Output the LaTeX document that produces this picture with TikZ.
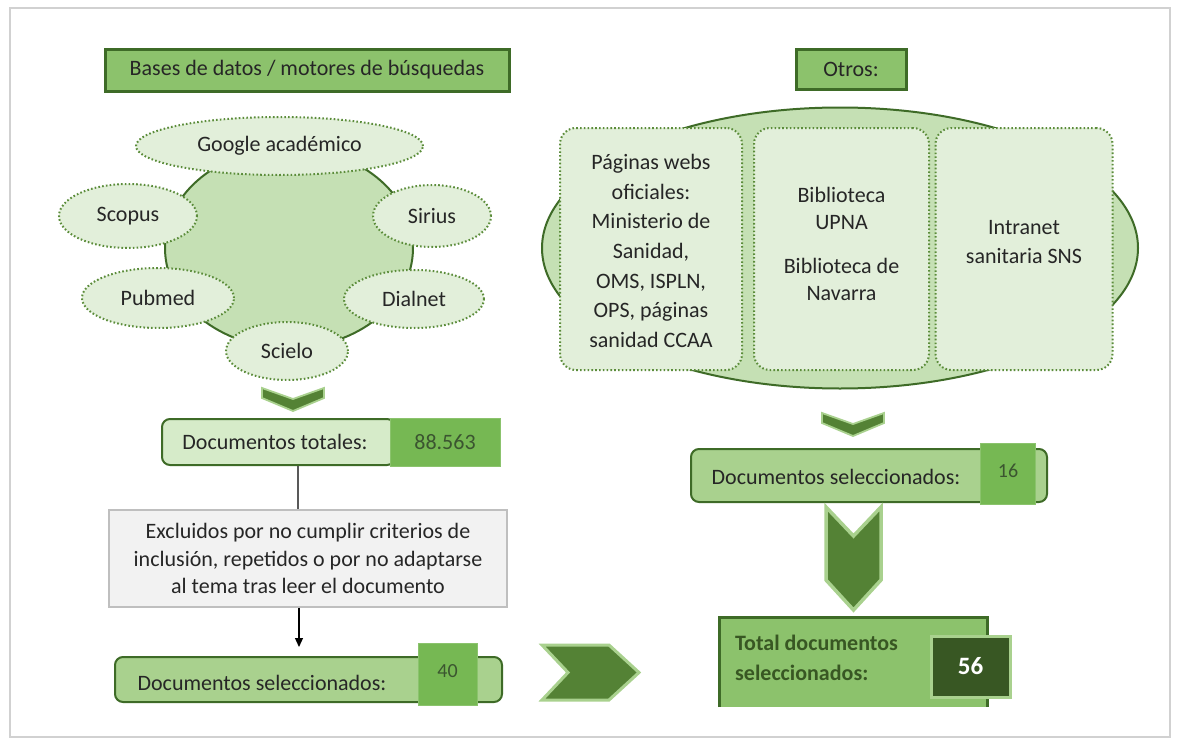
\documentclass[tikz,border=0pt]{standalone}
\usepackage{fontspec}
\setmainfont{Carlito}
\usetikzlibrary{shapes.geometric,arrows.meta}
\definecolor{dkgreen}{HTML}{3E6B27}
\definecolor{hdrfill}{HTML}{8CC26C}
\definecolor{pale}{HTML}{E2EFDA}
\definecolor{paletot}{HTML}{D6EBC9}
\definecolor{midlight}{HTML}{C5E0B4}
\definecolor{boxgreen}{HTML}{A9D18E}
\definecolor{numgreen}{HTML}{76B853}
\definecolor{chevfill}{HTML}{548235}
\definecolor{chevedge}{HTML}{A9D18E}
\definecolor{dotgreen}{HTML}{5B8C3A}
\definecolor{txt}{HTML}{262626}
\definecolor{numtxt}{HTML}{3B5530}
\definecolor{darknum}{HTML}{385723}
\tikzset{
  hdr/.style={rectangle, fill=hdrfill, draw=dkgreen, line width=3pt, inner sep=0pt, text=txt},
  ell/.style={ellipse, fill=pale, draw=dotgreen, line width=2pt, dash pattern=on 1.6pt off 2.2pt, inner sep=0pt, text=txt},
  card/.style={rectangle, rounded corners=16pt, fill=pale, draw=dotgreen, line width=2pt, dash pattern=on 1.6pt off 2.2pt, inner sep=0pt},
  chev/.style={fill=chevfill, draw=chevedge, line width=1.8pt, line join=miter},
  selbox/.style={rectangle, rounded corners=8pt, fill=boxgreen, draw=dkgreen, line width=2pt, inner sep=0pt},
  numbox/.style={rectangle, fill=numgreen, draw=numgreen!85!white, line width=1pt, inner sep=0pt, text=numtxt},
  lbl/.style={inner sep=0pt, text=txt, align=center},
}
\begin{document}
\begin{tikzpicture}[x=1pt,y=-1pt,font=\fontsize{22}{27}\selectfont]
\useasboundingbox (0,0) rectangle (1179,744);
\fill[white] (0,0) rectangle (1179,744);
\draw[black!18, line width=2pt] (10,8) rectangle (1170,737);

% headers
\node[hdr, minimum width=404pt, minimum height=42pt] (h1) at (307,70) {Bases de datos / motores de búsquedas};
\node[hdr, minimum width=110pt, minimum height=40pt] (h2) at (851,69) {Otros:};

% left radial cluster
\node[ellipse, fill=midlight, draw=dkgreen, line width=2pt, minimum width=248pt, minimum height=200pt, inner sep=0pt] (hub) at (289,248) {};
\node[ell, minimum width=287pt, minimum height=58pt] (google) at (279.5,146) {Google académico};
\node[ell, minimum width=138pt, minimum height=64pt] (scopus) at (128,216) {Scopus};
\node[ell, minimum width=118pt, minimum height=62pt] (sirius) at (432,216) {Sirius};
\node[ell, minimum width=152pt, minimum height=60pt] (pubmed) at (158,298) {Pubmed};
\node[ell, minimum width=140pt, minimum height=58pt] (dialnet) at (414,299) {Dialnet};
\node[ell, minimum width=122pt, minimum height=58pt] (scielo) at (287,351) {Scielo};

% small chevron left
\draw[chev] (262,388) -- (293,399) -- (324,388) -- (324,398) -- (293,411) -- (262,398) -- cycle;

% documentos totales
\node[selbox, fill=paletot, minimum width=233pt, minimum height=46pt] (tot) at (278.5,442) {};
\node[lbl] (tott) at (275,442) {Documentos totales:};
\node[numbox, minimum width=110pt, minimum height=48pt] (n88) at (445,442) {88.563};

% excluded
\node[rectangle, fill=black!5, draw=black!25, line width=1.2pt, minimum width=398pt, minimum height=97pt, inner sep=0pt, align=center, text=txt, font=\fontsize{22}{27.5}\selectfont] (excl) at (308,558.5) {Excluidos por no cumplir criterios de\\inclusión, repetidos o por no adaptarse\\al tema tras leer el documento};
\draw[black!65, line width=1.2pt] ([xshift=19.5pt]tot.south) -- ([xshift=-10pt]excl.north);

% documentos seleccionados left
\node[selbox, minimum width=387pt, minimum height=45pt] (sel1) at (308.5,679.5) {};
\node[lbl] (sel1t) at (262,683) {Documentos seleccionados:};
\node[numbox, minimum width=59pt, minimum height=62pt, font=\fontsize{20}{24}\selectfont] (n40) at (447.5,674) {\raisebox{6pt}{40}};
\draw[black, line width=1.2pt, -{Triangle[length=9pt,width=8pt]}, shorten >=9pt] ([xshift=-9pt]excl.south) -- ([xshift=-9.5pt]sel1.north);

% right chevron
\draw[chev, line width=3pt] (542,645) -- (609,645) -- (639,672.5) -- (609,700) -- (542,700) -- (568,672.5) -- cycle;

% right cluster
\node[ellipse, fill=midlight, draw=dkgreen, line width=2pt, minimum width=596pt, minimum height=281pt, inner sep=0pt] (oval) at (840,248) {};
\node[card, minimum width=182pt, minimum height=242pt] (c1) at (651,249) {};
\node[card, minimum width=175pt, minimum height=242pt] (c2) at (841.5,249) {};
\node[card, minimum width=177pt, minimum height=242pt] (c3) at (1024,249) {};
\node[lbl, font=\fontsize{22}{29.7}\selectfont] (c1t) at (651,251) {Páginas webs\\oficiales:\\Ministerio de\\Sanidad,\\OMS, ISPLN,\\OPS, páginas\\sanidad CCAA};
\node[lbl, font=\fontsize{22}{27}\selectfont] (c2t) at (841.5,244) {Biblioteca\\UPNA\\[17pt]Biblioteca de\\Navarra};
\node[lbl, font=\fontsize{22}{29}\selectfont] (c3t) at (1024,242.5) {Intranet\\sanitaria SNS};

% small chevron right
\draw[chev] (822,413) -- (853,424) -- (884,413) -- (884,423) -- (853,436) -- (822,423) -- cycle;

% documentos seleccionados right
\node[selbox, minimum width=356pt, minimum height=53pt] (sel2) at (869,475.5) {};
\node[lbl] (sel2t) at (836,477) {Documentos seleccionados:};
\node[numbox, minimum width=55pt, minimum height=61pt, font=\fontsize{20}{24}\selectfont] (n16) at (1008,473.5) {\raisebox{5pt}{16}};

% big down chevron
\draw[chev, line width=3.5pt] (826,507) -- (853.5,536) -- (881,507) -- (881,580) -- (853.5,610) -- (826,580) -- cycle;

% total
\node[rectangle, fill=hdrfill, minimum width=267pt, minimum height=89pt, inner sep=0pt] (total) at (853.5,662.5) {};
\draw[dkgreen, line width=3pt] (total.south west) -- (total.north west) -- (total.north east) -- (total.south east);
\node[inner sep=0pt, anchor=west, align=left, text=darknum, font=\fontsize{22}{30}\bfseries\selectfont] (totalt) at (735,658) {Total documentos\\seleccionados:};
\node[rectangle, fill=darknum, draw=boxgreen, line width=3pt, minimum width=79pt, minimum height=61pt, inner sep=0pt, text=white, font=\fontsize{25}{30}\bfseries\selectfont] (n56) at (970.5,666.5) {56};
\end{tikzpicture}
\end{document}
